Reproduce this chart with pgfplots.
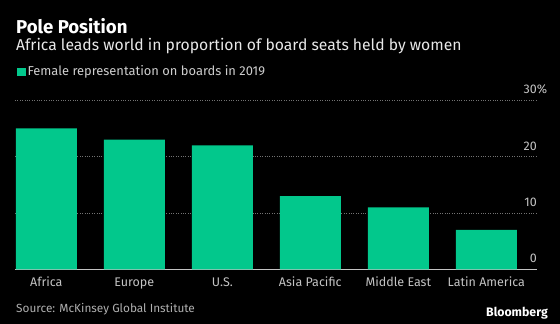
\documentclass[border=0pt]{standalone}
\usepackage{pgfplots}
\pgfplotsset{compat=1.18}
\usepackage{fontspec}
\setmainfont{Fira Sans}
\definecolor{bargreen}{RGB}{2,200,140}
\definecolor{subgray}{RGB}{232,232,232}
\definecolor{leggray}{RGB}{205,205,205}
\definecolor{tickgray}{RGB}{195,195,195}
\definecolor{gridgray}{RGB}{115,115,115}
\definecolor{srcgray}{RGB}{175,175,175}
\begin{document}
\begin{tikzpicture}
\useasboundingbox (0,0) rectangle (560pt,324pt);
\fill[black] (0,0) rectangle (560pt,324pt);
\node[anchor=base west, inner sep=0pt, text=white, font=\bfseries\fontsize{18.6}{22}\selectfont] at (16pt,290.7pt) {Pole Position};
\node[anchor=base west, inner sep=0pt, text=subgray, font=\fontsize{15.7}{19}\selectfont] at (16pt,273pt) {Africa leads world in proportion of board seats held by women};
\begin{axis}[at={(15pt,54.7pt)}, anchor=south west, scale only axis, width=522pt, height=169pt,
 ybar, bar width=61pt, xmin=-0.356, xmax=5.576, ymin=0, ymax=30,
 xtick=data, xticklabels={Africa,Europe,U.S.,Asia Pacific,Middle East,Latin America},
 ytick={0,10,20,30}, yticklabels={0,10,20,30\rlap{\%}},
 axis x line*=bottom, axis y line*=right,
 x axis line style={draw=tickgray, line width=0.8pt, -},
 y axis line style={draw=none},
 major tick length=0pt,
 ymajorgrids, grid style={gridgray, dotted, line width=0.7pt},
 xticklabel style={anchor=base, yshift=-17.7pt, inner sep=0pt, text=tickgray, font=\fontsize{12.5}{15}\selectfont},
 yticklabel style={anchor=base east, yshift=6.5pt, inner sep=0pt, text=tickgray, font=\fontsize{12.5}{15}\selectfont},
 legend style={at={(0,1)}, anchor=west, xshift=2pt, yshift=28.6pt, draw=none, fill=none, inner sep=0pt, text=leggray, font=\fontsize{12.9}{15}\selectfont},
 legend cell align=left,
 ]
\addplot[fill=bargreen, draw=none, legend image code/.code={\fill[bargreen] (0pt,-4pt) rectangle (8.3pt,4pt);}] coordinates {(0,25) (1,23) (2,22) (3,13) (4,11) (5,7)};
\addlegendentry{Female representation on boards in 2019}
\end{axis}
\node[anchor=base west, inner sep=0pt, text=srcgray, font=\fontsize{11.8}{14}\selectfont] at (16pt,11.2pt) {Source: McKinsey Global Institute};
\node[anchor=base east, inner sep=0pt, text=white, font=\bfseries\fontsize{12.3}{15}\selectfont] at (548pt,7pt) {Bloomberg};
\end{tikzpicture}
\end{document}
